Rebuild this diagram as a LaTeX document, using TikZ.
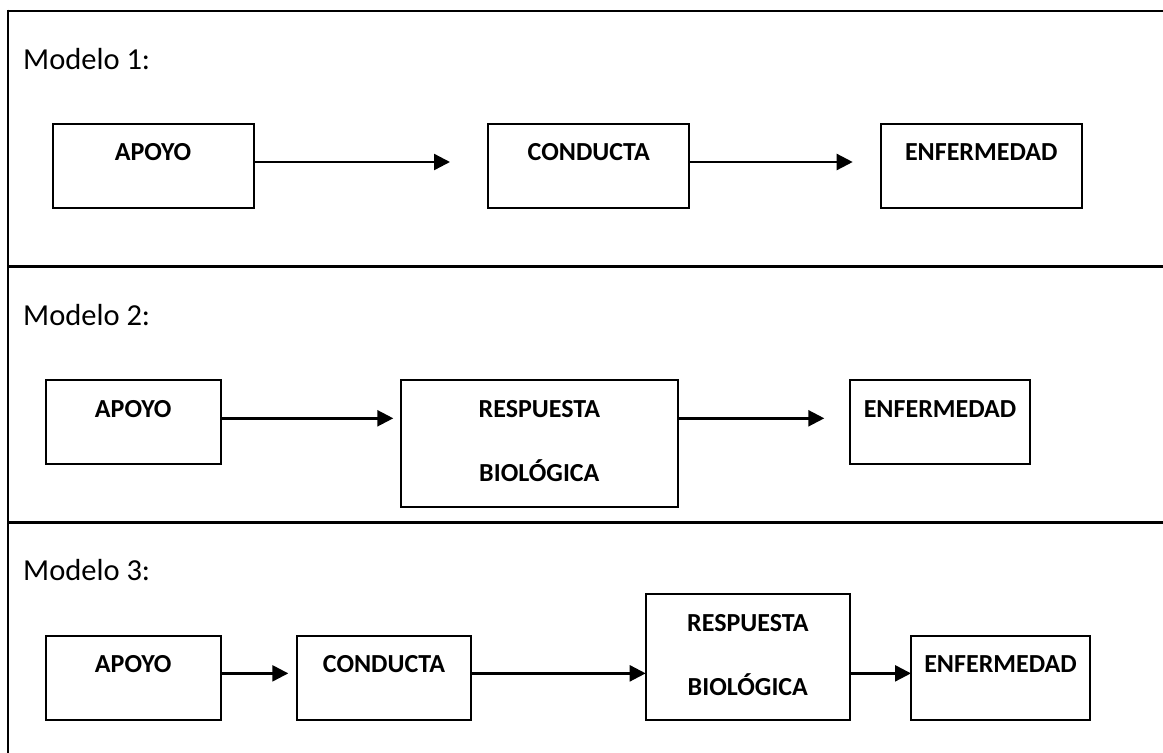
\documentclass[tikz,border=0pt]{standalone}
\usepackage{fontspec}
\setmainfont{Carlito}
\newfontfamily\lblfont{Carlito}
\newfontfamily\boxfont{Carlito}
\usetikzlibrary{arrows.meta,calc}
\newcommand\btxt[2]{\parbox[c][#1][t]{172pt}{\centering\boxfont\bfseries\fontsize{26}{64}\selectfont\rule{0pt}{37pt}#2}}
\tikzset{
  frame/.style={line width=2.6pt},
  box/.style={draw, line width=2pt, inner sep=0pt, outer sep=0pt},
  lbl/.style={inner sep=0pt, anchor=base west, font=\lblfont\fontsize{30.5}{34}\selectfont},
  arr/.style={line width=2.4pt, -{Triangle[length=16pt,width=16pt]}}
}
\begin{document}
\begin{tikzpicture}[x=1pt,y=-1pt]
\useasboundingbox (0,0) rectangle (1163,753);
% frame
\draw[frame] (8,11) -- (1163,11);
\draw[frame] (8,266.5) -- (1163,266.5);
\draw[frame] (8,522.5) -- (1163,522.5);
\draw[frame] (8,9.7) -- (8,753);
% Modelo 1
\node[lbl] (m1) at (23,69) {Modelo 1:};
\node[box, minimum width=201pt, minimum height=84.6pt] (a1) at (153,166) {\btxt{84.6pt}{APOYO}};
\node[box, minimum width=201pt, minimum height=84.6pt] (c1) at (588.8,166) {\btxt{84.6pt}{CONDUCTA}};
\node[box, minimum width=201pt, minimum height=84.6pt] (e1) at (981.2,166) {\btxt{84.6pt}{ENFERMEDAD}};
\draw[arr, shorten >=38.3pt] ([yshift=4pt]a1.east) -- ([yshift=4pt]c1.west);
\draw[arr, shorten >=28pt] ([yshift=4pt]c1.east) -- ([yshift=4pt]e1.west);
% Modelo 2
\node[lbl] (m2) at (23,325) {Modelo 2:};
\node[box, minimum width=175pt, minimum height=84pt] (a2) at (133.2,422) {\btxt{84pt}{APOYO}};
\node[box, minimum width=276.7pt, minimum height=126.7pt] (r2) at (539.35,443.35) {\btxt{126.7pt}{RESPUESTA\\BIOLÓGICA}};
\node[box, minimum width=180pt, minimum height=84pt] (e2) at (940,422) {\btxt{84pt}{ENFERMEDAD}};
\draw[arr, shorten >=7.7pt] ([yshift=3.7pt]a2.east) -- ([yshift=3.7pt]a2.east -| r2.west);
\draw[arr, shorten >=25.7pt] ([yshift=3.7pt]e2.west -| r2.east) -- ([yshift=3.7pt]e2.west);
% Modelo 3
\node[lbl] (m3) at (23,580) {Modelo 3:};
\node[box, minimum width=175pt, minimum height=84.3pt] (a3) at (133.2,677.85) {\btxt{84.3pt}{APOYO}};
\node[box, minimum width=174.6pt, minimum height=84.3pt] (c3) at (384,677.85) {\btxt{84.3pt}{CONDUCTA}};
\node[box, minimum width=204.3pt, minimum height=126pt] (r3) at (747.85,657) {\btxt{126pt}{RESPUESTA\\BIOLÓGICA}};
\node[box, minimum width=179pt, minimum height=84.3pt] (e3) at (1000.5,677.85) {\btxt{84.3pt}{ENFERMEDAD}};
\draw[arr, shorten >=8.4pt] ([yshift=4.5pt]a3.east) -- ([yshift=4.5pt]c3.west);
\draw[arr] ([yshift=4.5pt]c3.east) -- ([yshift=4.5pt]c3.east -| r3.west);
\draw[arr] ([yshift=4.5pt]e3.west -| r3.east) -- ([yshift=4.5pt]e3.west);
\end{tikzpicture}
\end{document}
